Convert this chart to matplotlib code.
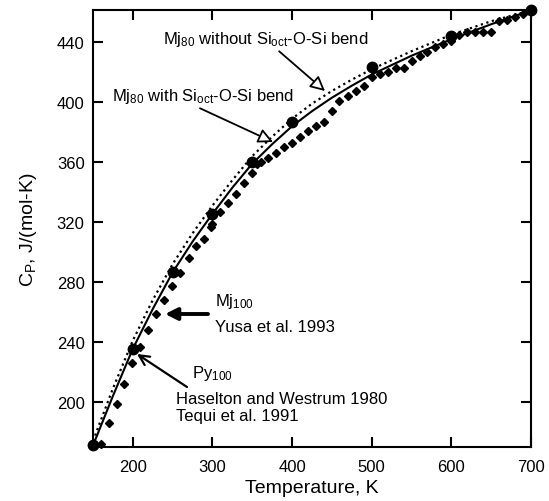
import matplotlib
matplotlib.use("Agg")
import matplotlib.pyplot as plt

plt.rcParams['font.family'] = ['Liberation Sans', 'DejaVu Sans']
plt.rcParams['mathtext.fontset'] = 'custom'
plt.rcParams['mathtext.rm'] = 'Liberation Sans'
plt.rcParams['mathtext.it'] = 'Liberation Sans'
plt.rcParams['mathtext.default'] = 'rm'

# Calculated Mj80 points (filled circles)
calc_T = [150, 200, 250, 300, 350, 400, 500, 600, 700]
calc_C = [171, 235.5, 286.5, 325.3, 359.8, 386.5, 423.4, 444.4, 461.3]

# Mj80 with Si_oct-O-Si bend (solid)
with_T = [150, 175, 200, 225, 250, 275, 300, 325, 350, 375, 400, 425, 450, 475, 500, 550, 600, 650, 700]
with_C = [171, 204, 235.5, 262, 286.5, 307, 325.5, 343, 359, 372, 384, 394, 403, 411, 418.5, 431, 442, 452, 461.3]

# Mj80 without Si_oct-O-Si bend (dotted)
without_T = [150, 175, 200, 225, 250, 275, 300, 325, 350, 375, 400, 425, 450, 475, 500, 550, 600, 650, 700]
without_C = [174, 209, 241, 268, 292, 312.5, 331, 348, 364, 377, 389, 399, 407.5, 415, 422, 434, 445, 454, 461.3]

# Py100 measurements (Haselton and Westrum 1980; Tequi et al. 1991)
py_T = [160, 170, 180, 189, 199, 209, 219.5, 229.5, 239, 249.6, 259, 270, 279, 289, 298, 310, 320, 330, 340, 350]
py_C = [171.7, 186, 199, 211.8, 226, 236.4, 248, 259, 268, 277.5, 286, 295.8, 304.2, 309, 317, 327, 333, 339, 346, 353]

# Mj100 measurements (Yusa et al. 1993)
mj_T = [300, 356, 361, 370, 380, 390, 400, 410, 420, 430, 440, 450, 459, 470, 480, 490, 500, 511,
        520, 530, 540, 550, 560, 570, 580, 590, 600, 610, 620, 630, 640, 650, 660, 670, 680, 690]
mj_C = [319, 358.7, 359.8, 362.7, 366.4, 369.8, 373, 377, 381, 384, 387, 394, 401, 404, 407.5, 410.5, 416.5, 419,
        420, 423, 423, 427.5, 430.5, 433.5, 436.5, 438.7, 441, 445, 446.5, 446.5, 446.5, 446.5, 454, 455, 457, 459]

x_ticks = [200, 300, 400, 500, 600, 700]
y_ticks = [200, 240, 280, 320, 360, 400, 440]

fig = plt.figure(figsize=(5.49, 5.02), dpi=100)
ax = fig.add_axes([0.1694, 0.1076, 0.7978, 0.8705])

ax.plot(without_T, without_C, color='black', lw=1.6, ls=(0, (1, 1.6)))
ax.plot(with_T, with_C, color='black', lw=1.5, ls='-')
ax.plot(py_T, py_C, ls='none', marker='D', ms=4, color='black', clip_on=False)
ax.plot(mj_T, mj_C, ls='none', marker='D', ms=4, color='black', clip_on=False)
ax.plot(calc_T, calc_C, ls='none', marker='o', ms=7.5, color='black', clip_on=False, zorder=5)

ax.set_xlim(150, 700)
ax.set_ylim(170, 461.5)
ax.set_xticks(x_ticks)
ax.set_yticks(y_ticks)
ax.tick_params(direction='in', length=7, width=1.5, top=True, right=True, labelsize=12, pad=6)
ax.tick_params(axis='x', pad=9)
for s in ax.spines.values():
    s.set_linewidth(1.5)

ax.set_xlabel('Temperature, K', fontsize=14, labelpad=3)
ax.set_ylabel('C$_P$, J/(mol-K)', fontsize=14, labelpad=13)

tf = ax.transData.inverted()
def d(px, py):
    # figure pixel (from top-left) -> data coords
    return tf.transform((px, 502 - py))

open_arrow = dict(arrowstyle='-|>', fc='white', ec='black', lw=1.3, mutation_scale=22, shrinkA=0, shrinkB=0)
ax.annotate('Mj$_{80}$ without Si$_{oct}$-O-Si bend', xy=d(325, 92), xytext=d(163, 40),
            fontsize=12, ha='left', va='center', arrowprops=dict(open_arrow, relpos=(0.55, 0.0)))
ax.annotate('Mj$_{80}$ with Si$_{oct}$-O-Si bend', xy=d(273, 143), xytext=d(112, 97),
            fontsize=12, ha='left', va='center', arrowprops=dict(open_arrow, relpos=(0.45, 0.0)))

ax.annotate('', xy=d(165, 315), xytext=d(208, 315),
            arrowprops=dict(arrowstyle='-|>', fc='black', ec='black', lw=2.8, mutation_scale=18, shrinkA=0, shrinkB=0))
ax.text(*d(215, 302), 'Mj$_{100}$', fontsize=12, ha='left', va='center')
ax.text(*d(215, 328), 'Yusa et al. 1993', fontsize=12, ha='left', va='center')

ax.annotate('', xy=d(137, 355), xytext=d(187, 388),
            arrowprops=dict(arrowstyle='->', color='black', lw=1.6, mutation_scale=18, shrinkA=0, shrinkB=0))
ax.text(*d(192, 374), 'Py$_{100}$', fontsize=12, ha='left', va='center')
ax.text(*d(176, 400), 'Haselton and Westrum 1980', fontsize=12, ha='left', va='center')
ax.text(*d(176, 417), 'Tequi et al. 1991', fontsize=12, ha='left', va='center')

fig.savefig('out.png', dpi=100)
